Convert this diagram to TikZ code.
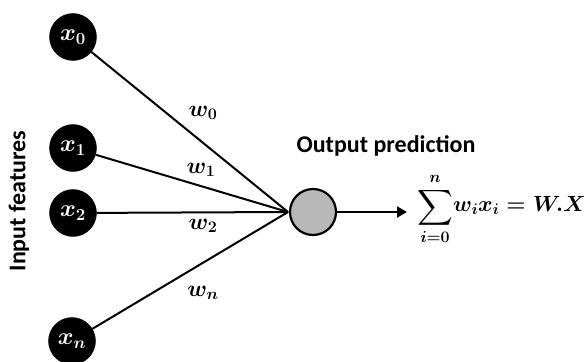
\RequirePackage{fix-cm}
\documentclass[tikz,border=0pt]{standalone}
\usepackage{amsmath}
\usepackage{fontspec}
\newfontfamily\calibri{Carlito}
\usetikzlibrary{arrows.meta}
\tikzset{
  inp/.style={circle, fill=black, draw=black, minimum size=47pt, inner sep=0pt, text=white, font=\fontsize{24}{24}\selectfont\boldmath},
  outn/.style={circle, fill=black!28, draw=black, line width=2.2pt, minimum size=46pt, inner sep=0pt},
  conn/.style={line width=2pt, draw=black},
  wlab/.style={inner sep=0pt, font=\fontsize{23}{23}\selectfont\boldmath},
  lab/.style={inner sep=0pt, font=\fontsize{24}{24}\selectfont\calibri\bfseries},
  mathlab/.style={inner sep=0pt, font=\fontsize{22}{22}\selectfont\boldmath}
}
\begin{document}
\begin{tikzpicture}[x=1pt,y=-1pt]
\useasboundingbox (0,0) rectangle (585,361);
\node[inp] (x0) at (73,37) {$x_0$};
\node[inp] (x1) at (73,148) {$x_1$};
\node[inp] (x2) at (73,213) {$x_2$};
\node[inp] (xn) at (72,341) {$x_n$};
\node[outn] (out) at (313,212) {};
\coordinate (c) at (288,212);
\coordinate (tip) at (407,212);
\draw[conn] (x0) -- (c);
\draw[conn] (x1) -- (c);
\draw[conn] (x2) -- (c);
\draw[conn] (xn) -- (c);
\draw[conn, -{Triangle[length=10pt,width=11pt]}] (out) -- (tip);
\node[wlab] (w0) at (203,113) {$w_0$};
\node[wlab] (w1) at (201,170) {$w_1$};
\node[wlab] (w2) at (203,226) {$w_2$};
\node[wlab] (wn) at (203,293) {$w_n$};
\node[lab] (op) at (386,146) {Output prediction};
\node[lab, rotate=90] (ip) at (19,201) {Input features};
\node[inner sep=0pt, font=\fontsize{32}{32}\selectfont\boldmath] (sig) at (435,209) {$\displaystyle\sum_{\scriptscriptstyle i=0}^{\scriptscriptstyle n}$};
\node[mathlab, anchor=base west] (rest) at (453,211) {$w_i x_i = W.X$};
\end{tikzpicture}
\end{document}
